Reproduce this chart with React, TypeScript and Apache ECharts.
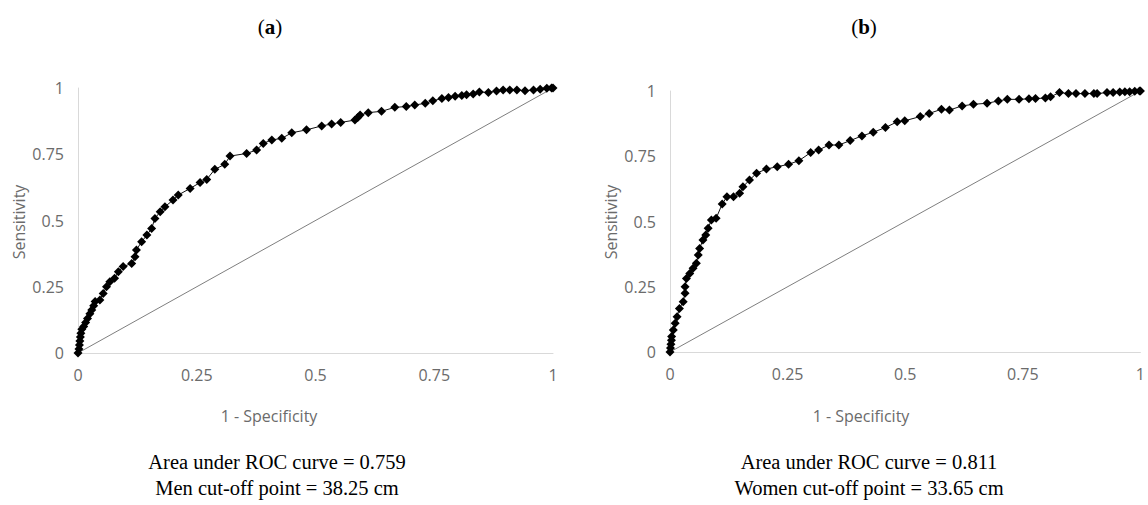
import React, { useEffect, useRef } from "react";
import * as echarts from "echarts";

// Men (a): 1 - Specificity and Sensitivity
const menFpr = [0, 0.002, 0.003, 0.004, 0.005, 0.006, 0.008, 0.012, 0.016, 0.02, 0.025, 0.029, 0.033, 0.036, 0.046, 0.053, 0.06, 0.067, 0.077, 0.085, 0.095, 0.113, 0.12, 0.123, 0.134, 0.145, 0.155, 0.162, 0.173, 0.183, 0.2, 0.211, 0.236, 0.257, 0.271, 0.288, 0.309, 0.32, 0.355, 0.376, 0.39, 0.408, 0.429, 0.45, 0.481, 0.513, 0.534, 0.553, 0.583, 0.589, 0.594, 0.611, 0.639, 0.667, 0.691, 0.709, 0.731, 0.747, 0.766, 0.78, 0.794, 0.808, 0.818, 0.832, 0.845, 0.864, 0.881, 0.895, 0.909, 0.924, 0.941, 0.959, 0.973, 0.987, 0.997, 1];
const menTpr = [0, 0.015, 0.03, 0.045, 0.06, 0.075, 0.09, 0.1, 0.115, 0.13, 0.148, 0.162, 0.178, 0.194, 0.2, 0.225, 0.25, 0.269, 0.282, 0.307, 0.326, 0.338, 0.363, 0.389, 0.42, 0.445, 0.47, 0.508, 0.533, 0.552, 0.577, 0.596, 0.621, 0.643, 0.655, 0.693, 0.712, 0.743, 0.753, 0.766, 0.791, 0.804, 0.81, 0.831, 0.842, 0.857, 0.864, 0.87, 0.879, 0.889, 0.898, 0.907, 0.912, 0.927, 0.93, 0.936, 0.942, 0.952, 0.96, 0.964, 0.969, 0.972, 0.975, 0.977, 0.985, 0.983, 0.989, 0.992, 0.992, 0.992, 0.99, 0.992, 0.995, 0.999, 1, 1];

// Women (b)
const womenFpr = [0, 0.001, 0.002, 0.003, 0.0035, 0.007, 0.011, 0.015, 0.02, 0.028, 0.032, 0.032, 0.035, 0.042, 0.049, 0.056, 0.06, 0.063, 0.07, 0.076, 0.081, 0.088, 0.098, 0.111, 0.121, 0.135, 0.148, 0.155, 0.169, 0.184, 0.205, 0.228, 0.252, 0.274, 0.299, 0.316, 0.338, 0.359, 0.383, 0.408, 0.432, 0.458, 0.483, 0.499, 0.532, 0.551, 0.577, 0.594, 0.621, 0.645, 0.674, 0.698, 0.717, 0.742, 0.763, 0.777, 0.798, 0.809, 0.828, 0.847, 0.863, 0.882, 0.901, 0.908, 0.929, 0.942, 0.956, 0.967, 0.977, 0.988, 0.998, 1];
const womenTpr = [0, 0.015, 0.03, 0.045, 0.059, 0.084, 0.11, 0.135, 0.167, 0.193, 0.225, 0.25, 0.282, 0.301, 0.321, 0.34, 0.372, 0.397, 0.429, 0.448, 0.474, 0.506, 0.512, 0.567, 0.595, 0.595, 0.608, 0.633, 0.659, 0.685, 0.701, 0.71, 0.719, 0.733, 0.764, 0.774, 0.793, 0.793, 0.81, 0.828, 0.842, 0.86, 0.882, 0.886, 0.902, 0.914, 0.93, 0.927, 0.943, 0.949, 0.953, 0.962, 0.968, 0.968, 0.97, 0.971, 0.973, 0.978, 0.994, 0.99, 0.99, 0.99, 0.99, 0.99, 0.994, 0.994, 0.996, 0.997, 0.997, 0.999, 1, 1];

const diagonal = [[0, 0], [1, 1]];

const panelTitles = ["a", "b"];
const aucLines = ["Area under ROC curve = 0.759", "Area under ROC curve = 0.811"];
const cutoffLines = ["Men cut-off point = 38.25 cm", "Women cut-off point = 33.65 cm"];
const xAxisName = "1 - Specificity";
const yAxisName = "Sensitivity";

const zip = (xs: number[], ys: number[]) => xs.map((x, i) => [x, ys[i]]);

export default function App() {
  const ref = useRef<HTMLDivElement>(null);
  useEffect(() => {
    if (!ref.current) return;
    const chart = echarts.init(ref.current, null, { renderer: "svg" });
    const grey = "#6b6b6b";
    const fs = 16;
    const axisFont = { fontFamily: "Open Sans", fontSize: fs, color: grey };
    const mkAxis = (gi: number) => ({
      type: "value",
      gridIndex: gi,
      min: 0,
      max: 1,
      interval: 0.25,
      axisLine: { show: true, lineStyle: { color: "#d9d9d9", width: 1 } },
      axisTick: { show: false },
      splitLine: { show: false },
      axisLabel: { ...axisFont, margin: 14 },
    });
    const rocSeries = (gi: number, data: number[][]) => ({
      type: "line",
      xAxisIndex: gi,
      yAxisIndex: gi,
      data,
      symbol: "diamond",
      symbolSize: 9,
      showAllSymbol: true,
      clip: false,
      lineStyle: { color: "#111", width: 1 },
      itemStyle: { color: "#000" },
      z: 3,
    });
    const diagSeries = (gi: number) => ({
      type: "line",
      xAxisIndex: gi,
      yAxisIndex: gi,
      data: diagonal,
      symbol: "none",
      lineStyle: { color: "#7f7f7f", width: 1 },
      z: 2,
    });
    const centers = [270, 864];
    const xNameCenters = [269, 861];
    const yNameX = [18.5, 610.5];
    const serif = "Liberation Serif";
    const graphics: any[] = [];
    [0, 1].forEach((i) => {
      graphics.push({
        type: "text",
        x: centers[i],
        y: 27,
        style: {
          text: "({b|" + panelTitles[i] + "})",
          font: "21px " + serif,
          fill: "#000",
          align: "center",
          verticalAlign: "middle",
          rich: { b: { fontWeight: "bold", fontFamily: serif, fontSize: 21 } },
        },
      });
      graphics.push({
        type: "text",
        x: xNameCenters[i],
        y: 416,
        style: { text: xAxisName, font: fs + "px 'Open Sans'", fill: grey, align: "center", verticalAlign: "middle" },
      });
      graphics.push({
        type: "text",
        x: yNameX[i],
        y: 222,
        rotation: Math.PI / 2,
        style: { text: yAxisName, font: fs + "px 'Open Sans'", fill: grey, align: "center", verticalAlign: "middle" },
      });
      graphics.push({
        type: "text",
        x: [277, 869][i],
        y: 462,
        style: { text: aucLines[i], font: "20.5px " + serif, fill: "#000", align: "center", verticalAlign: "middle" },
      });
      graphics.push({
        type: "text",
        x: [277, 869][i],
        y: 488,
        style: { text: cutoffLines[i], font: "20.5px " + serif, fill: "#000", align: "center", verticalAlign: "middle" },
      });
    });
    chart.setOption({
      animation: false,
      backgroundColor: "#fff",
      grid: [
        { left: 78, top: 88, width: 475, height: 265 },
        { left: 670, top: 91, width: 474, height: 261 },
      ],
      xAxis: [mkAxis(0), mkAxis(1)],
      yAxis: [mkAxis(0), mkAxis(1)],
      series: [
        diagSeries(0),
        rocSeries(0, zip(menFpr, menTpr)),
        diagSeries(1),
        rocSeries(1, zip(womenFpr, womenTpr)),
      ],
      graphic: graphics,
    });
    return () => chart.dispose();
  }, []);
  return (
    <div
      ref={ref}
      style={{ position: "absolute", left: 0, top: 0, width: 1148, height: 505 }}
    />
  );
}
